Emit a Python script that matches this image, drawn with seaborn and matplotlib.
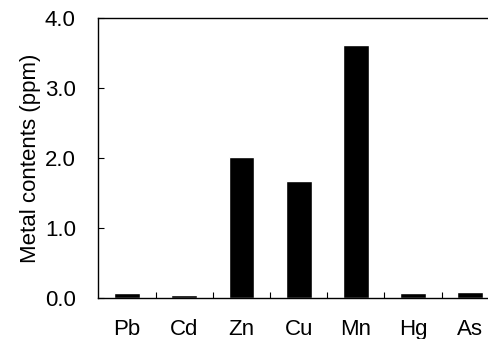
import matplotlib
matplotlib.use("Agg")
import matplotlib.pyplot as plt
import seaborn as sns
import pandas as pd

metals = ["Pb", "Cd", "Zn", "Cu", "Mn", "Hg", "As"]
contents = [0.07, 0.04, 2.02, 1.67, 3.62, 0.07, 0.08]
yticks = [0.0, 1.0, 2.0, 3.0, 4.0]
ytick_labels = ["0.0", "1.0", "2.0", "3.0", "4.0"]

sns.set_style("white", {"text.color": "black", "axes.labelcolor": "black",
                        "xtick.color": "black", "ytick.color": "black"})
plt.rcParams["font.family"] = ["Liberation Sans", "DejaVu Sans"]

df = pd.DataFrame({"metal": metals, "ppm": contents})

fig = plt.figure(figsize=(4.89, 3.39), dpi=100)
ax = fig.add_axes([98/489, 1 - 298/339, 1.0 - 98/489, (298 - 18)/339])
sns.barplot(data=df, x="metal", y="ppm", color="black", width=0.45,
            saturation=1, ax=ax)

ax.set_xlim(-0.51, 6.33)
ax.set_ylim(0, 4.0)
ax.set_yticks(yticks)
ax.set_yticklabels(ytick_labels)
ax.set_xlabel("")
ax.set_ylabel("Metal contents (ppm)", fontsize=16, labelpad=3)

for s in ["left", "bottom", "top"]:
    ax.spines[s].set_visible(True)
    ax.spines[s].set_color("black")
    ax.spines[s].set_linewidth(1.0)
ax.spines["right"].set_visible(False)

ax.tick_params(axis="y", direction="in", length=4, width=0.8, pad=16,
               labelsize=16, left=True)
ax.set_xticks(range(len(metals)))
ax.set_xticklabels(metals)
ax.tick_params(axis="x", length=0, pad=15, labelsize=16)
ax.set_xticks([i + 0.5 for i in range(len(metals) - 1)], minor=True)
ax.tick_params(axis="x", which="minor", direction="in", length=4, width=0.8,
               bottom=True)

fig.savefig("out.png", dpi=100)
